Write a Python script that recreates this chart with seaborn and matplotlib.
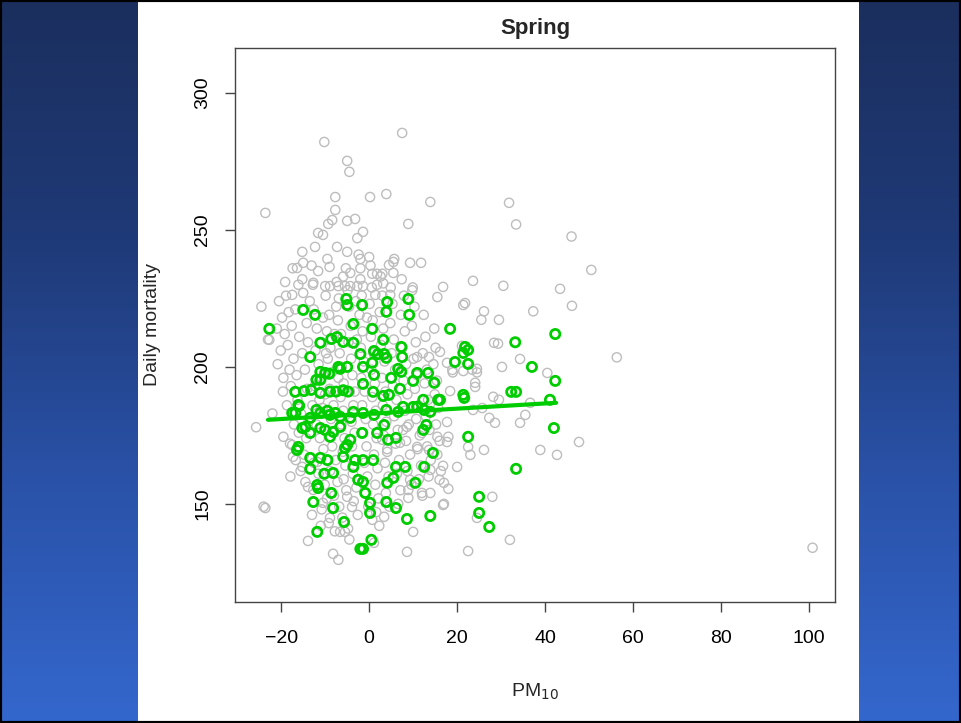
import numpy as np
import pandas as pd
import matplotlib
matplotlib.use("Agg")
import matplotlib.pyplot as plt
import seaborn as sns
from matplotlib.patches import Rectangle

# ---------------- data ----------------
title = "Spring"
x_label = "PM$_{10}$"
y_label = "Daily mortality"
x_ticks = [-20, 0, 20, 40, 60, 80, 100]
y_ticks = [150, 200, 250, 300]

gray_outer = [
    (-23.6, 256.2), (-10.2, 282.1), (7.5, 285.4), (-5, 275.2), (-4.5, 271.2), (3.9, 263.1),
    (0.2, 262), (-7.7, 262), (13.9, 260.2), (31.8, 259.9), (33.4, 252), (46, 247.6),
    (50.5, 235.4), (43.4, 228.5), (46.1, 222.3), (56.3, 203.5), (100.8, 134), (-24.5, 222),
    (-23, 210), (-24, 149), (-25.7, 178), (-22, 183), (47.7, 172.6), (42.7, 167.9),
    (38.9, 169.7), (40.5, 197.8), (34.3, 202.9), (30.2, 200), (29.3, 208.5), (30.5, 229.6),
    (23.6, 231.4), (21.4, 222.6), (21.8, 223.3), (32, 136.9), (22.5, 132.8), (8.6, 132.5),
    (16, 158.8), (-7.7, 257.3), (8.9, 252.2), (-8.4, 253.6), (-9.3, 252.2), (-3.2, 254),
    (-5, 253.3), (-11.6, 248.9), (-10.5, 248.2), (-1.4, 249.3), (-2.7, 247), (-12.3, 243.8),
    (-7.3, 243.8), (-5, 242), (-15.2, 242), (0, 240.1), (-2, 239.4), (5.7, 239.4),
    (5.5, 238.3), (4.5, 237.2), (9.3, 238), (11.8, 238), (-9.5, 239.4), (-9, 236.5),
    (-15, 238), (-16.4, 236.1), (-15.2, 232), (-11.6, 235), (-2, 236), (-4.3, 234.3),
    (-5.9, 233), (0.7, 234), (1.8, 234), (3, 234), (5.5, 234.3), (16.8, 229.2),
    (-12.7, 230.7), (-10, 229.5), (-8.9, 229.5), (-7, 229.5), (-5.5, 229.5), (-4.3, 229.5),
    (-2.7, 229.5), (-1.4, 229.5), (1.8, 230), (3.2, 230.5), (9.8, 228), (-17.5, 226.3),
    (-15, 227), (15.5, 225.5), (1.4, 226.3), (4.8, 226.3), (26.1, 220.3), (25.5, 217.2),
    (29.5, 217.2), (37.3, 220.3), (28.4, 208.8), (24.1, 192.7), (29.5, 188), (36.6, 186.9),
    (35.5, 182.5), (27.3, 181.4), (21.1, 207.7), (18.4, 191.2), (17.7, 201.5), (19, 198),
    (24.5, 198), (23.4, 199),
]

gray_mid = [
    (34.3, 179.6), (28.6, 179.6), (25.7, 185), (18, 174.5), (22.5, 170.8), (23, 167.9),
    (26.1, 169.7), (20, 163.5), (17, 157.7), (18, 155.5), (17, 150), (28, 152.6),
    (24.5, 144.9), (-22.7, 209.9), (-19.5, 174.5), (-17.5, 171.5), (-23.6, 148.5),
    (-13.9, 136.5), (-8.2, 131.8), (-7, 129.6), (-6.6, 139.8), (-5.5, 139.8), (-8.9, 144.9),
    (0.7, 144.2), (1.1, 135.8), (10, 139.8), (16.8, 149.6), (12, 154), (13.9, 154),
    (8.9, 152.2), (4.1, 150.4), (3.4, 145.3), (-5, 152.6), (-3.9, 148.9), (-12.7, 155.1),
    (-10.5, 150.4), (-14.5, 158), (-13.9, 156.2), (-11.8, 165.3), (-15.2, 163.5),
    (-17.3, 167.2), (16.8, 163.9), (23.6, 184.3), (17.7, 179.9), (15.5, 174.5), (17.7, 172.6),
    (13.6, 169.7), (12, 175.9), (10.9, 170.8), (7.7, 177), (8.6, 178.1), (7, 172.3),
    (4.1, 169), (3, 173.4), (13.9, 162.4), (9.3, 158.8), (8.9, 155.1), (10.9, 203.6),
    (13.6, 203.6), (16.1, 205.5), (18.9, 198.9), (21.4, 198.5), (24.1, 194.2), (28.2, 189.1),
    (24.5, 199.3),
]

gray_core = [
    (-20.5, 224), (-19.8, 218), (-18.9, 226), (-19.2, 212), (-20.1, 206), (-18.5, 208),
    (-17.6, 215), (-16.8, 221), (-17.2, 203), (-18.1, 199), (-19.5, 196), (-17.8, 193),
    (-16.5, 197), (-15.9, 211), (-15.2, 205), (-16.3, 188), (-18.7, 186), (-15.5, 183),
    (-17.1, 179), (-16.0, 176), (-14.8, 168), (-15.6, 162), (-17.9, 160), (-14.3, 174),
    (-13.8, 180), (-14.1, 192), (-14.6, 199), (-13.9, 209), (-14.2, 216), (-13.5, 224),
    (-12.8, 230), (-12.6, 221), (-11.9, 214), (-12.2, 206), (-11.5, 201), (-10.8, 196),
    (-12.4, 193), (-11.3, 188), (-10.6, 185), (-12.0, 179), (-11.2, 174), (-10.4, 170),
    (-12.6, 165), (-11.5, 161), (-10.1, 157), (-9.6, 152), (-10.8, 148), (-9.2, 143),
    (-7.8, 140), (-9.9, 226), (-9.1, 219), (-9.6, 213), (-8.8, 207), (-9.4, 203),
    (-8.5, 198), (-9.0, 192), (-8.1, 186), (-8.7, 181), (-7.9, 176), (-8.4, 171),
    (-7.6, 166), (-8.9, 162), (-7.2, 158), (-8.0, 153), (-6.8, 149), (-7.4, 231),
    (-6.9, 225), (-7.1, 217), (-6.4, 212), (-6.7, 205), (-6.2, 200), (-5.8, 194),
    (-6.5, 189), (-5.9, 184), (-6.3, 179), (-5.6, 174), (-6.0, 169), (-5.4, 164),
    (-5.8, 159), (-5.2, 155), (-6.1, 145), (-4.8, 141), (-4.5, 137), (-5.3, 236),
    (-4.9, 228), (-4.6, 222), (-4.2, 215), (-4.7, 209), (-4.1, 203), (-3.8, 197),
    (-4.4, 191), (-3.6, 186), (-4.0, 180), (-3.3, 176), (-3.9, 171), (-3.1, 166),
    (-3.7, 161), (-2.9, 156), (-3.5, 151), (-2.6, 146), (-2.4, 241), (-2.0, 232),
    (-1.7, 226), (-2.2, 219), (-1.5, 213), (-1.9, 207), (-1.2, 202), (-1.8, 196),
    (-1.0, 191), (-1.6, 186), (-0.8, 181), (-1.4, 176), (-0.6, 171), (-1.1, 165),
    (-0.4, 160), (-0.9, 154), (-0.2, 149), (0.3, 237), (0.6, 229), (0.1, 223),
    (0.8, 217), (0.4, 211), (1.0, 205), (0.5, 199), (1.3, 194), (0.7, 189),
    (1.5, 184), (0.9, 179), (1.7, 174), (1.1, 168), (1.9, 163), (1.4, 157),
    (2.1, 152), (1.6, 147), (2.3, 142), (2.6, 233), (3.0, 226), (2.4, 220),
    (3.2, 214), (2.7, 208), (3.5, 202), (2.9, 196), (3.7, 191), (3.1, 186),
    (3.9, 180), (3.3, 175), (4.1, 170), (3.6, 165), (4.4, 160), (3.8, 154),
    (4.6, 149), (4.9, 229), (5.3, 223), (4.8, 216), (5.6, 210), (5.1, 205),
    (5.9, 199), (5.4, 193), (6.2, 188), (5.7, 182), (6.5, 177), (6.0, 172),
    (6.8, 166), (6.3, 161), (7.1, 155), (6.6, 150), (7.4, 232), (7.9, 226),
    (7.2, 219), (8.1, 213), (7.6, 207), (8.4, 201), (7.8, 195), (8.7, 190),
    (8.1, 184), (9.0, 179), (8.4, 173), (9.3, 168), (8.7, 162), (9.6, 157),
    (9.9, 229), (10.3, 222), (9.7, 215), (10.6, 209), (10.1, 203), (10.9, 197),
    (10.4, 192), (11.2, 186), (10.7, 181), (11.5, 175), (11.0, 170), (11.8, 164),
    (11.3, 159), (12.1, 153), (12.4, 219), (12.8, 211), (12.2, 205), (13.1, 199),
    (12.6, 194), (13.4, 188), (12.9, 182), (13.7, 177), (13.2, 171), (14.0, 166),
    (13.5, 160), (14.8, 214), (15.1, 207), (14.6, 201), (15.4, 195), (14.9, 190),
    (15.7, 185), (15.2, 179), (16.0, 173), (15.5, 168), (16.3, 162),
    (-19.1, 231), (-17.4, 236), (-18.3, 220), (-16.1, 230), (-13.1, 237), (-20.8, 201),
    (-19.6, 191), (-21.0, 214), (-18.0, 172), (-16.7, 166), (-13.0, 146), (-11.0, 142),
    (-10.5, 218), (-10.9, 209), (-9.8, 205), (-7.9, 212), (-7.5, 222), (-3.0, 224),
    (-0.5, 218), (-2.8, 210), (-3.3, 191), (-7.0, 196), (-10.0, 190), (-12.9, 186),
]

green_points = [
    (-22.7, 213.9), (-15, 220.8), (-12.3, 219), (-5.2, 224.8), (-5, 222.6), (-1.6, 222.6),
    (4.1, 223.7), (3.9, 220.1), (8.9, 224.8), (9.1, 219), (-3.6, 215.7), (0.7, 213.9),
    (3.2, 209.9), (18.4, 213.9), (33.2, 209), (42.3, 212), (-11.1, 208.8), (-8.6, 210.2),
    (-7.3, 210.9), (-5.9, 209.1), (-3.6, 208.8), (7.3, 207.3), (21.8, 207.3), (22.5, 206.2),
    (21.4, 205.1), (7.5, 203.6), (-13.4, 203.6), (-2, 204.7), (1.1, 205.8), (2, 204.7),
    (3.4, 204.7), (3.9, 203.3), (0.7, 201.5), (19.5, 201.8), (22.5, 201.1), (-7, 200),
    (-6.6, 199.3), (-5, 200), (-1.4, 200), (1.1, 197.1), (-11.1, 198.2), (-10, 197.8),
    (-9.1, 197.5), (-12, 195.3), (-11.1, 195.3), (6.6, 199.3), (7.3, 198.2), (5, 196),
    (10.9, 197.8), (13.4, 197.8), (10, 194.9), (14.8, 194.2), (-1.4, 193.8), (37, 200),
    (42.3, 194.9), (-13.2, 191.6), (-11.1, 190.5), (-16.8, 190.9), (-14.8, 191.2),
    (-8.9, 191), (-7.5, 191), (-5.9, 191.5), (-4.8, 191), (0.9, 190.9), (3.2, 189.4),
    (4.5, 189.8), (7, 192), (32.3, 190.9), (33.4, 190.9), (12.3, 188), (15.7, 188),
    (21.6, 188.7), (41.1, 188), (16.1, 188), (10, 185.4), (10.9, 185.4), (21.4, 189.8),
    (-16.8, 183.2), (-15.9, 185.8), (-13.4, 181.4), (-12, 184.3), (-11.1, 183.2),
    (-9.5, 184), (-8.9, 182.5), (-7.7, 183.2), (-6.6, 181.8), (-3.6, 183.6), (-4.3, 181.4),
    (-1.4, 183.2), (1.1, 182.5), (3.9, 184.3), (6.6, 183.6), (7.7, 185.4), (12.5, 184.3),
    (13.9, 183.6), (-15.2, 177.7), (-14.5, 178.1), (-13.4, 175.9), (-11.1, 177.7),
    (-10, 177), (-8.9, 174.5), (-8.2, 176.3), (-6.6, 178.1), (-5, 171.5), (-4.3, 173.4),
    (-1.6, 175.9), (1.8, 175.9), (3.4, 178.8), (4.3, 173.4), (6.1, 174.1), (12.3, 177),
    (13, 178.8), (14.5, 168.6), (22.5, 174.5), (42, 177.7), (-16.4, 169.7), (-13.4, 166.8),
    (-11.1, 166.8), (-9.5, 166), (-13.4, 162.8), (-5.9, 167.2), (-5.5, 170.4), (-3.2, 166),
    (-1.4, 166), (0.9, 166), (-10.2, 161), (-8.2, 161.3), (-11.8, 156.9), (-11.6, 155.8),
    (-8.6, 154), (-3.6, 163.5), (-2.5, 158.8), (-1.4, 158), (-0.9, 154), (4.1, 157.7),
    (6.1, 163.5), (5.5, 159.5), (8.2, 163.5), (10.5, 157.7), (12.5, 163.5), (-12.7, 150.7),
    (-8.2, 148.5), (-5.7, 143.4), (0.2, 150.4), (0.2, 146.7), (3.9, 150.7), (6.1, 148.5),
    (8.6, 144.5), (13.9, 145.6), (-11.8, 139.8), (-2, 133.6), (-1.4, 133.6), (0.5, 136.9),
    (25, 152.6), (25, 146.7), (27.3, 141.6), (33.4, 162.8), (-16.1, 186.1), (-17.5, 183.2),
    (-16.1, 170.8),
]

# fitted regression line (end points)
fit_x = [-23.0, 42.5]
fit_y = [180.7, 186.9]

# ---------------- build tables ----------------
gray_all = gray_outer + gray_mid + gray_core
gray_df = pd.DataFrame(gray_all, columns=["pm10", "mortality"])
green_df = pd.DataFrame(green_points, columns=["pm10", "mortality"])
fit_df = pd.DataFrame({"pm10": fit_x, "mortality": fit_y})

# ---------------- style ----------------
sns.set_style("white")
plt.rcParams["font.family"] = ["Liberation Sans", "DejaVu Sans"]

W, H = 961, 723
fig = plt.figure(figsize=(W / 100, H / 100), dpi=100)
fig.patch.set_facecolor("white")

# slide side panels with vertical gradient
grad = np.linspace(0, 1, 256).reshape(-1, 1)
cmap = matplotlib.colors.LinearSegmentedColormap.from_list(
    "slide", ["#1b2f5e", "#1f3a78", "#2a52a8", "#3467cd"])
for (x0, x1) in [(0, 138), (859, 961)]:
    pax = fig.add_axes([x0 / W, 0, (x1 - x0) / W, 1])
    pax.imshow(grad, aspect="auto", cmap=cmap, extent=[0, 1, 1, 0])
    pax.set_axis_off()

# plot axes
ax = fig.add_axes([235 / W, (H - 602) / H, 600 / W, 554 / H])
ax.set_facecolor("white")

sns.scatterplot(data=gray_df, x="pm10", y="mortality", ax=ax,
                marker="o", s=44, facecolors="none", edgecolor="#bdbdbd",
                linewidth=1.0, zorder=2, legend=False)
sns.scatterplot(data=green_df, x="pm10", y="mortality", ax=ax,
                marker="o", s=44, facecolors="none", edgecolor="#00cd00",
                linewidth=2.0, zorder=3, legend=False)
sns.lineplot(data=fit_df, x="pm10", y="mortality", ax=ax, color="#00cd00",
             linewidth=3.0, zorder=4, legend=False)

ax.set_xlim(-30.5, 105.9)
ax.set_ylim(114.2, 316.4)
ax.set_xticks(x_ticks)
ax.set_yticks(y_ticks)
ax.set_xticklabels([("\u2212" + str(-t)) if t < 0 else str(t) for t in x_ticks])
ax.set_yticklabels([str(t) for t in y_ticks], rotation=90, va="center")

for sp in ax.spines.values():
    sp.set_visible(True)
    sp.set_color("#444444")
    sp.set_linewidth(1.0)

ax.tick_params(axis="both", direction="out", length=7, width=1.0,
               color="#444444", labelcolor="black", labelsize=14,
               bottom=True, left=True)
ax.tick_params(axis="x", pad=13)
ax.tick_params(axis="y", pad=10)

ax.set_xlabel(x_label, fontsize=14, va="center")
ax.xaxis.set_label_coords(0.5, -0.162)
ax.set_ylabel(y_label, fontsize=14, va="center")
ax.yaxis.set_label_coords(-0.138, 0.5)
ax.text(0.5, 1.036, title, transform=ax.transAxes, ha="center", va="center",
        fontsize=16, fontweight="bold")

# slide frame
fig.add_artist(Rectangle((0, 0), 1, 1, transform=fig.transFigure, fill=False,
                         edgecolor="black", linewidth=3.0))

fig.savefig("out.png", dpi=100, facecolor=fig.get_facecolor())
